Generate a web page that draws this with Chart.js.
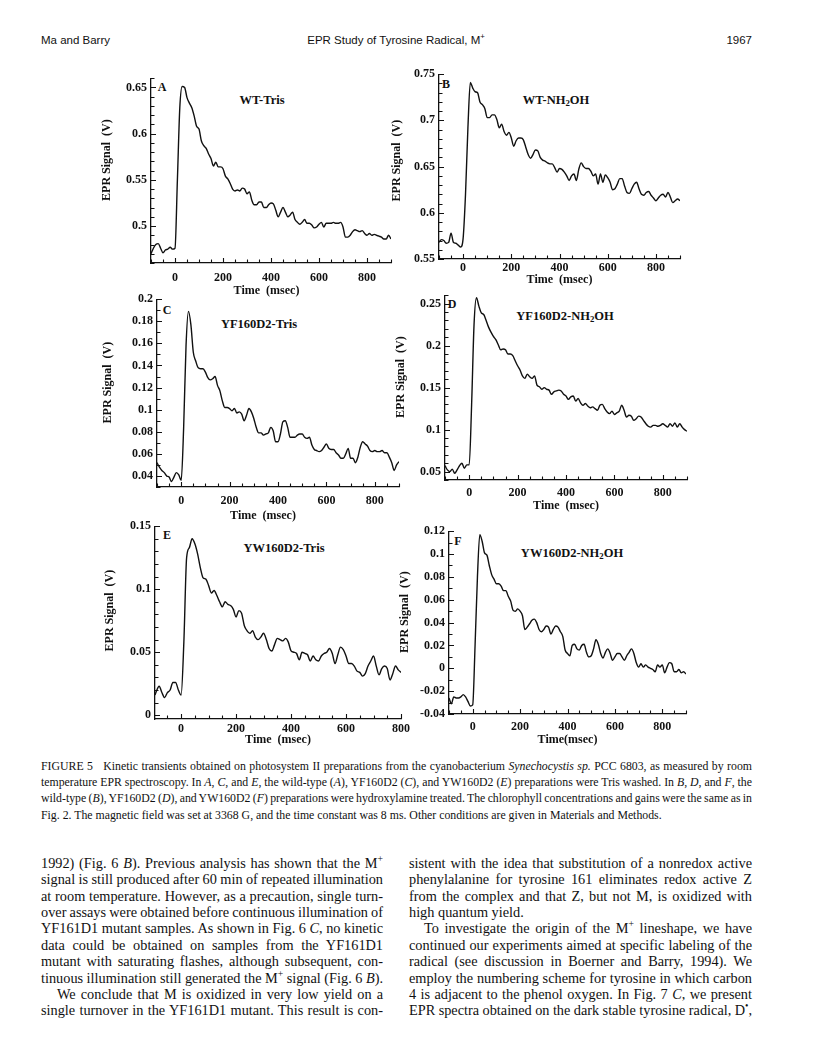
<!DOCTYPE html>
<html>
<head>
<meta charset="utf-8">
<script src="https://cdn.jsdelivr.net/npm/chart.js@4.4.1/dist/chart.umd.min.js"></script>
<style>
  body { margin: 0; width: 816px; height: 1061px; background: #fff; position: relative; overflow: hidden;
         font-family: "Liberation Serif", "Times New Roman", serif; color: #111; }
  .abs { position: absolute; white-space: nowrap; }
  .hdr { font-family: "Liberation Sans", Arial, sans-serif; font-size: 11.5px; line-height: 14px; top: 33px; }
  .tag { font-weight: bold; font-size: 12px; transform: translate(-50%, -50%); }
  .name { font-weight: bold; font-size: 12.5px; transform: translate(-50%, -50%); }
  .name sub { font-size: 0.7em; vertical-align: -0.25em; line-height: 0; }
  canvas.panel { position: absolute; }
  .jl { position: absolute; white-space: nowrap; }
  sup { font-size: 0.68em; vertical-align: super; line-height: 0; }
</style>
</head>
<body>

<div class="abs hdr" style="left:41px">Ma and Barry</div>
<div class="abs hdr" style="left:396px; transform:translateX(-50%)">EPR Study of Tyrosine Radical, M<sup>+</sup></div>
<div class="abs hdr" style="right:64px">1967</div>

<div class="abs tag" style="left:162px; top:87px">A</div>
<div class="abs name" style="left:262px; top:100px">WT-Tris</div>
<div class="abs tag" style="left:446px; top:84px">B</div>
<div class="abs name" style="left:556px; top:100px">WT-NH<sub>2</sub>OH</div>
<div class="abs tag" style="left:167px; top:310px">C</div>
<div class="abs name" style="left:259px; top:324px">YF160D2-Tris</div>
<div class="abs tag" style="left:452px; top:304px">D</div>
<div class="abs name" style="left:565px; top:316px">YF160D2-NH<sub>2</sub>OH</div>
<div class="abs tag" style="left:167px; top:535px">E</div>
<div class="abs name" style="left:284px; top:548px">YW160D2-Tris</div>
<div class="abs tag" style="left:458px; top:541px">F</div>
<div class="abs name" style="left:572px; top:553px">YW160D2-NH<sub>2</sub>OH</div>

<script>
// sample times (ms)
const timeMs = [-100,-90,-80,-70,-60,-50,-40,-30,-20,-10,0,10,20,30,40,50,60,70,80,90,100,
  110,120,130,140,150,160,170,180,190,200,210,220,230,240,250,260,270,280,290,300,
  310,320,330,340,350,360,370,380,390,400,410,420,430,440,450,460,470,480,490,500,
  510,520,530,540,550,560,570,580,590,600,610,620,630,640,650,660,670,680,690,700,
  710,720,730,740,750,760,770,780,790,800,810,820,830,840,850,860,870,880,890,900];
const timeE = [-95,-90,-80,-70,-60,-50,-40,-30,-20,-10,0,10,20,30,40,50,60,70,80,90,100,
  110,120,130,140,150,160,170,180,190,200,210,220,230,240,250,260,270,280,290,300,
  310,320,330,340,350,360,370,380,390,400,410,420,430,440,450,460,470,480,490,500,
  510,520,530,540,550,560,570,580,590,600,610,620,630,640,650,660,670,680,690,700,
  710,720,730,740,750,760,770,780,790,800];

// EPR signal (V)
const sigA = [0.470,0.476,0.480,0.481,0.476,0.471,0.474,0.475,0.477,0.475,0.476,
  0.550,0.628,0.651,0.650,0.639,0.633,0.628,0.619,0.608,0.605,
  0.592,0.587,0.584,0.578,0.573,0.565,0.569,0.564,0.564,0.562,
  0.554,0.551,0.546,0.540,0.538,0.539,0.538,0.541,0.540,0.535,
  0.537,0.528,0.523,0.523,0.526,0.526,0.520,0.520,0.523,0.525,
  0.524,0.517,0.510,0.515,0.520,0.515,0.510,0.512,0.515,0.507,
  0.504,0.502,0.504,0.507,0.503,0.503,0.501,0.498,0.499,0.502,
  0.504,0.499,0.503,0.503,0.503,0.504,0.503,0.503,0.504,0.499,
  0.488,0.488,0.490,0.494,0.496,0.495,0.494,0.495,0.492,0.490,
  0.492,0.490,0.491,0.490,0.489,0.488,0.486,0.486,0.490,0.486];
const sigB = [0.568,0.571,0.570,0.567,0.568,0.578,0.568,0.567,0.565,0.563,0.572,
  0.620,0.692,0.741,0.735,0.731,0.730,0.720,0.717,0.713,0.703,
  0.703,0.706,0.706,0.701,0.692,0.696,0.688,0.684,0.687,0.681,
  0.672,0.678,0.681,0.681,0.679,0.671,0.663,0.659,0.663,0.668,
  0.667,0.660,0.657,0.656,0.654,0.653,0.653,0.649,0.644,0.648,
  0.647,0.644,0.640,0.635,0.640,0.642,0.635,0.647,0.654,0.650,
  0.648,0.648,0.645,0.640,0.642,0.631,0.642,0.633,0.641,0.638,
  0.633,0.625,0.626,0.631,0.637,0.637,0.629,0.622,0.621,0.626,
  0.631,0.633,0.626,0.620,0.619,0.622,0.623,0.619,0.616,0.613,
  0.616,0.619,0.620,0.617,0.622,0.617,0.611,0.613,0.615,0.613];
const sigC = [0.052,0.048,0.045,0.043,0.040,0.039,0.035,0.039,0.043,0.041,0.036,
  0.083,0.158,0.189,0.177,0.152,0.144,0.138,0.137,0.137,0.134,
  0.129,0.127,0.128,0.130,0.122,0.117,0.108,0.102,0.102,0.101,
  0.099,0.101,0.097,0.098,0.096,0.090,0.095,0.101,0.098,0.092,
  0.084,0.079,0.079,0.077,0.078,0.079,0.084,0.081,0.071,0.071,
  0.078,0.089,0.090,0.084,0.075,0.075,0.075,0.077,0.078,0.078,
  0.075,0.074,0.075,0.068,0.064,0.063,0.062,0.063,0.066,0.069,
  0.065,0.064,0.064,0.061,0.059,0.056,0.056,0.060,0.065,0.056,
  0.056,0.052,0.057,0.066,0.071,0.069,0.067,0.063,0.062,0.063,
  0.062,0.062,0.063,0.061,0.061,0.057,0.052,0.045,0.050,0.053];
const sigD = [0.057,0.052,0.050,0.053,0.048,0.052,0.057,0.060,0.054,0.058,0.058,
  0.130,0.225,0.257,0.247,0.239,0.237,0.230,0.222,0.216,0.211,
  0.207,0.201,0.195,0.196,0.195,0.190,0.190,0.188,0.182,0.176,
  0.171,0.164,0.161,0.166,0.163,0.161,0.164,0.153,0.151,0.148,
  0.150,0.148,0.147,0.142,0.145,0.146,0.147,0.146,0.142,0.140,
  0.136,0.139,0.140,0.134,0.137,0.132,0.129,0.131,0.128,0.126,
  0.127,0.125,0.123,0.129,0.130,0.125,0.121,0.119,0.122,0.118,
  0.120,0.122,0.129,0.123,0.115,0.117,0.116,0.111,0.113,0.116,
  0.115,0.111,0.107,0.104,0.103,0.105,0.105,0.104,0.105,0.107,
  0.105,0.103,0.107,0.104,0.108,0.103,0.107,0.103,0.100,0.098];
const sigE = [0.016,0.019,0.023,0.018,0.014,0.018,0.020,0.026,0.026,0.020,0.016,
  0.058,0.125,0.133,0.140,0.136,0.128,0.117,0.109,0.108,0.103,
  0.097,0.099,0.095,0.090,0.086,0.090,0.088,0.087,0.084,0.078,
  0.083,0.081,0.071,0.067,0.065,0.067,0.062,0.060,0.062,0.065,
  0.060,0.053,0.051,0.056,0.061,0.060,0.059,0.061,0.058,0.051,
  0.050,0.049,0.044,0.050,0.049,0.048,0.043,0.047,0.044,0.043,
  0.047,0.049,0.050,0.053,0.049,0.041,0.048,0.054,0.052,0.047,
  0.041,0.041,0.039,0.035,0.034,0.031,0.033,0.039,0.043,0.047,
  0.039,0.032,0.037,0.039,0.037,0.028,0.033,0.039,0.036,0.034];
const sigF = [-0.026,-0.031,-0.025,-0.026,-0.026,-0.025,-0.023,-0.025,-0.029,-0.033,-0.032,
  0.020,0.080,0.117,0.111,0.101,0.099,0.090,0.082,0.078,0.074,
  0.074,0.072,0.068,0.068,0.063,0.059,0.051,0.050,0.052,0.050,
  0.046,0.034,0.036,0.039,0.042,0.043,0.040,0.034,0.032,0.034,
  0.037,0.036,0.030,0.034,0.037,0.036,0.032,0.028,0.016,0.013,
  0.011,0.020,0.021,0.017,0.016,0.020,0.021,0.014,0.010,0.011,
  0.017,0.025,0.021,0.013,0.009,0.014,0.017,0.013,0.007,0.010,
  0.013,0.013,0.010,0.007,0.011,0.014,0.017,0.013,0.005,0.001,
  0.004,0.001,0.003,0.001,0.000,-0.001,-0.003,0.003,0.001,0.003,
  -0.004,0.001,0.005,0.004,-0.003,-0.003,-0.001,-0.004,-0.003,-0.005];

// labelled ticks
const xTicks = [0, 200, 400, 600, 800];
const yTicksA = [0.5, 0.55, 0.6, 0.65];
const yTicksB = [0.55, 0.6, 0.65, 0.7, 0.75];
const yTicksC = [0.04, 0.06, 0.08, 0.1, 0.12, 0.14, 0.16, 0.18, 0.2];
const yTicksD = [0.05, 0.1, 0.15, 0.2, 0.25];
const yTicksE = [0, 0.05, 0.1, 0.15];
const yTicksF = [-0.04, -0.02, 0, 0.02, 0.04, 0.06, 0.08, 0.1, 0.12];

const INK = '#111';
const PAD_T = 10, PAD_R = 12;
const FONT = { family: 'Liberation Serif', size: 12, weight: 'bold', lineHeight: 1.2 };

// plot box in page pixels (L,R,T,B = axis lines), plus axis spacing
const panels = [
  { t: timeMs, v: sigA, yMajor: yTicksA, xMin: -100, xMax: 900, yMin: 0.46, yMax: 0.66,
    L: 151, R: 391, T: 77, B: 263, yW: 51, xH: 35, xPad: 7.5, yLead: 7, xTail: 3, xTitle: 'Time  (msec)' },
  { t: timeMs, v: sigB, yMajor: yTicksB, xMin: -100, xMax: 900, yMin: 0.55, yMax: 0.75,
    L: 439, R: 680, T: 73, B: 259, yW: 49, xH: 28, xPad: 2, yLead: 4, xTail: 0, xTitle: 'Time  (msec)' },
  { t: timeMs, v: sigC, yMajor: yTicksC, xMin: -100, xMax: 900, yMin: 0.03, yMax: 0.2,
    L: 157, R: 399, T: 298, B: 487, yW: 56, xH: 36, xPad: 7, yLead: 7, xTail: 10, xTitle: 'Time  (msec)' },
  { t: timeMs, v: sigD, yMajor: yTicksD, xMin: -100, xMax: 900, yMin: 0.04, yMax: 0.26,
    L: 445, R: 687, T: 294, B: 480, yW: 51, xH: 33, xPad: 5.5, yLead: 7, xTail: 0, xTitle: 'Time  (msec)' },
  { t: timeE, v: sigE, yMajor: yTicksE, xMin: -95, xMax: 800, yMin: -0.003, yMax: 0.15,
    L: 155, R: 401, T: 525, B: 719, yW: 52, xH: 28, xPad: 3, yLead: 8, xTail: 0, xTitle: 'Time  (msec)' },
  { t: timeMs, v: sigF, yMajor: yTicksF, xMin: -100, xMax: 900, yMin: -0.04, yMax: 0.12,
    L: 449, R: 686, T: 530, B: 714, yW: 51, xH: 33, xPad: 6, yLead: 7, xTail: 0, xTitle: 'Time(msec)' }
];

function steps(min, max, step) {
  const out = [];
  for (let k = Math.ceil(min / step - 1e-9); k * step <= max + 1e-9; k++) out.push(+(k * step).toFixed(6));
  return out;
}
function label(v, majors) {
  return majors.some(m => Math.abs(m - v) < 1e-6) ? String(+v.toFixed(3)) : '';
}

// tick marks drawn inside the plot, like the original
const inwardTicks = {
  id: 'inwardTicks',
  afterDraw(chart) {
    const { ctx, chartArea, scales } = chart;
    ctx.save();
    ctx.strokeStyle = INK;
    ctx.lineWidth = 1.1;
    ctx.beginPath();
    scales.x.ticks.forEach(t => {
      const px = Math.round(scales.x.getPixelForValue(t.value)) + 0.5;
      ctx.moveTo(px, chartArea.bottom);
      ctx.lineTo(px, chartArea.bottom - (t.label ? 5 : 3.5));
    });
    scales.y.ticks.forEach(t => {
      const py = Math.round(scales.y.getPixelForValue(t.value)) + 0.5;
      ctx.moveTo(chartArea.left, py);
      ctx.lineTo(chartArea.left + (t.label ? 5 : 3.5), py);
    });
    ctx.stroke();
    ctx.restore();
  }
};

panels.forEach(p => {
  const c = document.createElement('canvas');
  c.className = 'panel';
  const w = p.yW + (p.R - p.L) + PAD_R;
  const h = PAD_T + (p.B - p.T) + p.xH;
  c.width = w; c.height = h;
  c.style.width = w + 'px'; c.style.height = h + 'px';
  c.style.left = (p.L - p.yW) + 'px';
  c.style.top = (p.T - PAD_T) + 'px';
  document.body.appendChild(c);

  new Chart(c, {
    type: 'line',
    data: {
      datasets: [{
        data: p.t.map((t, i) => ({ x: t, y: p.v[i] })),
        borderColor: INK,
        borderWidth: 1.4,
        pointRadius: 0,
        cubicInterpolationMode: 'monotone',
        fill: false
      }]
    },
    options: {
      responsive: false,
      animation: false,
      events: [],
      layout: { padding: { top: PAD_T, right: PAD_R, left: 0, bottom: 0 } },
      plugins: { legend: { display: false }, tooltip: { enabled: false } },
      scales: {
        x: {
          type: 'linear', min: p.xMin, max: p.xMax,
          grid: { display: false, drawTicks: false },
          border: { display: true, color: INK, width: 1.3 },
          afterBuildTicks: s => { s.ticks = steps(p.xMin, p.xMax, 50).map(value => ({ value })); },
          afterFit: s => { s.height = p.xH; },
          ticks: { autoSkip: false, maxRotation: 0, minRotation: 0, padding: p.xPad, color: INK, font: FONT,
                   callback: v => label(v, xTicks) },
          title: { display: true, text: p.xTitle + ' '.repeat(p.xTail), color: INK, font: FONT, padding: 0 }
        },
        y: {
          type: 'linear', min: p.yMin, max: p.yMax,
          grid: { display: false, drawTicks: false },
          border: { display: true, color: INK, width: 1.3 },
          afterBuildTicks: s => { s.ticks = steps(p.yMin, p.yMax, 0.01).map(value => ({ value })); },
          afterFit: s => { s.width = p.yW; },
          ticks: { autoSkip: false, padding: 4, color: INK, font: FONT,
                   callback: v => label(v, p.yMajor) },
          title: { display: true, text: ' '.repeat(p.yLead) + 'EPR Signal  (V)', color: INK, font: FONT, padding: 0 }
        }
      }
    },
    plugins: [inwardTicks]
  });
});

// caption and body text, one justified line per element
const caption = [
  'FIGURE 5&nbsp;&nbsp; Kinetic transients obtained on photosystem II preparations from the cyanobacterium <i>Synechocystis sp.</i> PCC 6803, as measured by room',
  'temperature EPR spectroscopy. In <i>A</i>, <i>C</i>, and <i>E</i>, the wild-type (<i>A</i>), YF160D2 (<i>C</i>), and YW160D2 (<i>E</i>) preparations were Tris washed. In <i>B</i>, <i>D</i>, and <i>F</i>, the',
  'wild-type (<i>B</i>), YF160D2 (<i>D</i>), and YW160D2 (<i>F</i>) preparations were hydroxylamine treated. The chlorophyll concentrations and gains were the same as in',
  'Fig. 2. The magnetic field was set at 3368 G, and the time constant was 8 ms. Other conditions are given in Materials and Methods.'
];
const bodyLeft = [
  '1992) (Fig. 6 <i>B</i>). Previous analysis has shown that the M<sup>+</sup>',
  'signal is still produced after 60 min of repeated illumination',
  'at room temperature. However, as a precaution, single turn-',
  'over assays were obtained before continuous illumination of',
  'YF161D1 mutant samples. As shown in Fig. 6 <i>C</i>, no kinetic',
  'data could be obtained on samples from the YF161D1',
  'mutant with saturating flashes, although subsequent, con-',
  'tinuous illumination still generated the M<sup>+</sup> signal (Fig. 6 <i>B</i>).',
  'We conclude that M is oxidized in very low yield on a',
  'single turnover in the YF161D1 mutant. This result is con-'
];
const bodyRight = [
  'sistent with the idea that substitution of a nonredox active',
  'phenylalanine for tyrosine 161 eliminates redox active Z',
  'from the complex and that Z, but not M, is oxidized with',
  'high quantum yield.',
  'To investigate the origin of the M<sup>+</sup> lineshape, we have',
  'continued our experiments aimed at specific labeling of the',
  'radical (see discussion in Boerner and Barry, 1994). We',
  'employ the numbering scheme for tyrosine in which carbon',
  '4 is adjacent to the phenol oxygen. In Fig. 7 <i>C</i>, we present',
  'EPR spectra obtained on the dark stable tyrosine radical, D<sup>&#8226;</sup>,'
];

function placeLines(lines, x, yCenter, width, lh, size, indents, ragged) {
  lines.forEach((html, i) => {
    const el = document.createElement('div');
    el.className = 'jl';
    el.innerHTML = html;
    const ind = indents[i] || 0;
    el.style.left = (x + ind) + 'px';
    el.style.top = (yCenter + i * lh - lh / 2) + 'px';
    el.style.fontSize = size + 'px';
    el.style.lineHeight = lh + 'px';
    document.body.appendChild(el);
    if (ragged.includes(i)) return;
    const nat = el.getBoundingClientRect().width;
    const n = (el.textContent.match(/[ \u00a0]/g) || []).length;
    if (n) el.style.wordSpacing = ((width - ind - nat) / n) + 'px';
  });
}

placeLines(caption, 41, 766, 711, 16.3, 11.8, {}, [3]);
placeLines(bodyLeft, 41, 863, 342, 16.4, 14.3, { 8: 16 }, []);
placeLines(bodyRight, 409, 863, 343, 16.4, 14.3, { 4: 15 }, [3]);
</script>
</body>
</html>
